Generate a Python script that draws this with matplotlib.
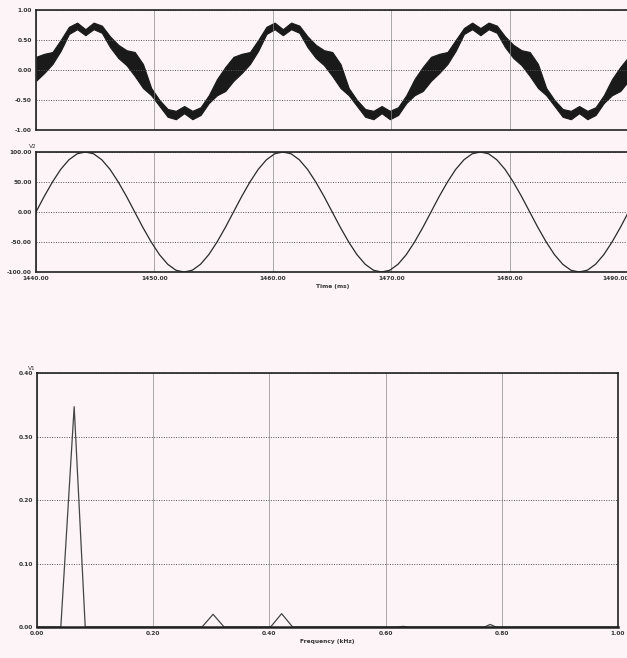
import numpy as np
from matplotlib import pyplot as plt

# V1 (top trace): upper / lower edge of the thick band, read every 1/24 of a 60 Hz cycle
v1_upper = [0.22, 0.27, 0.30, 0.50, 0.72, 0.79, 0.68, 0.79, 0.74, 0.56, 0.42, 0.33,
            0.30, 0.10, -0.30, -0.50, -0.65, -0.68, -0.60, -0.68, -0.62, -0.42, -0.15, 0.05,
            0.22, 0.27, 0.30, 0.50, 0.72, 0.79, 0.68, 0.79, 0.74, 0.56, 0.42, 0.33,
            0.30, 0.10, -0.30, -0.50, -0.65, -0.68, -0.60, -0.68, -0.62, -0.42, -0.15, 0.05,
            0.22, 0.27, 0.30, 0.50, 0.70, 0.79, 0.70, 0.79, 0.74, 0.56, 0.42, 0.33,
            0.30, 0.10, -0.30, -0.50, -0.65, -0.68, -0.60, -0.68, -0.62, -0.42, -0.15, 0.05,
            0.22]
v1_lower = [-0.18, -0.05, 0.10, 0.32, 0.60, 0.68, 0.58, 0.68, 0.62, 0.38, 0.20, 0.08,
            -0.10, -0.30, -0.42, -0.60, -0.78, -0.82, -0.72, -0.82, -0.75, -0.55, -0.42, -0.35,
            -0.18, -0.05, 0.10, 0.32, 0.60, 0.68, 0.58, 0.68, 0.62, 0.38, 0.20, 0.08,
            -0.10, -0.30, -0.42, -0.60, -0.78, -0.82, -0.72, -0.82, -0.75, -0.55, -0.42, -0.35,
            -0.18, -0.05, 0.10, 0.32, 0.60, 0.68, 0.58, 0.68, 0.62, 0.38, 0.20, 0.08,
            -0.10, -0.30, -0.42, -0.60, -0.78, -0.82, -0.72, -0.82, -0.75, -0.55, -0.42, -0.35,
            -0.18]

# V2 (middle trace), same sample instants
v2 = [0, 26, 50, 71, 87, 97, 100, 97, 87, 71, 50, 26,
      0, -26, -50, -71, -87, -97, -100, -97, -87, -71, -50, -26,
      0, 26, 50, 71, 87, 97, 100, 97, 87, 71, 50, 26,
      0, -26, -50, -71, -87, -97, -100, -97, -87, -71, -50, -26,
      0, 26, 50, 71, 87, 97, 100, 97, 87, 71, 50, 26,
      0, -26, -50, -71, -87, -97, -100, -97, -87, -71, -50, -26,
      0]

t_start = 1440.0
t_step = 1000.0 / 60 / 24      # ms between samples
t_ticks = [1440, 1450, 1460, 1470, 1480, 1490]

# spectrum of V1
freq_khz = [0.0, 0.041, 0.064, 0.083, 0.284, 0.303, 0.322, 0.402, 0.421, 0.440,
            0.620, 0.630, 0.640, 0.770, 0.780, 0.790, 1.0]
mag = [0.0, 0.0, 0.347, 0.0, 0.0, 0.020, 0.0, 0.0, 0.021, 0.0,
       0.0, 0.001, 0.0, 0.0, 0.004, 0.0, 0.0]
f_ticks = [0.0, 0.2, 0.4, 0.6, 0.8, 1.0]
mag_ticks = [0.0, 0.1, 0.2, 0.3, 0.4]

paper = '#fcf4f7'
ink = '#1a1a1a'
txt_col = '#333333'


def style_axes(ax):
    ax.set_facecolor(paper)
    for s in ax.spines.values():
        s.set_linewidth(1.2)
        s.set_color('#222222')
    ax.tick_params(length=0, pad=3)
    ax.grid(axis='y', linestyle=(0, (1, 1.5)), color='#555555', linewidth=0.7)
    ax.grid(axis='x', linestyle='-', color='#888888', linewidth=0.5)
    for lab in ax.get_xticklabels() + ax.get_yticklabels():
        lab.set_fontsize(4.2)
        lab.set_fontweight('bold')
        lab.set_color(txt_col)


fig = plt.figure(figsize=(6.27, 6.58), dpi=100)
fig.patch.set_facecolor(paper)

t = t_start + np.arange(len(v2)) * t_step
t_max = 1489.7

# top: V1
ax1 = fig.add_axes([0.0574, 0.8024, 0.945, 0.1824])
ax1.fill_between(t, v1_lower, v1_upper, color=ink, linewidth=0.8, edgecolor=ink)
ax1.set_xlim(t_start, t_max)
ax1.set_ylim(-1, 1)
ax1.set_xticks(t_ticks)
ax1.set_xticklabels([])
ax1.set_yticks([-1, -0.5, 0, 0.5, 1])
ax1.set_yticklabels(['-1.00', '-0.50', '0.00', '0.50', '1.00'])
style_axes(ax1)

# middle: V2
ax2 = fig.add_axes([0.0574, 0.5866, 0.945, 0.1824])
ax2.plot(t, v2, color='#2a2a2a', linewidth=0.9)
ax2.set_xlim(t_start, t_max)
ax2.set_ylim(-100, 100)
ax2.set_xticks(t_ticks)
ax2.set_xticklabels(['%.2f' % v for v in t_ticks])
ax2.set_yticks([-100, -50, 0, 50, 100])
ax2.set_yticklabels(['-100.00', '-50.00', '0.00', '50.00', '100.00'])
style_axes(ax2)
# last time label sits on the right edge; anchor it inside the figure
ax2.get_xticklabels()[-1].set_horizontalalignment('right')
ax2.text(-0.012, 1.03, 'V2', transform=ax2.transAxes, fontsize=4.2, color=txt_col)
ax2.set_xlabel('Time (ms)', fontsize=4.2, fontweight='bold', color=txt_col, labelpad=2)

# bottom: spectrum
ax3 = fig.add_axes([0.059, 0.0471, 0.9267, 0.386])
ax3.plot(freq_khz, mag, color='#444444', linewidth=0.9)
ax3.set_xlim(0, 1)
ax3.set_ylim(0, 0.4)
ax3.set_xticks(f_ticks)
ax3.set_xticklabels(['%.2f' % v for v in f_ticks])
ax3.set_yticks(mag_ticks)
ax3.set_yticklabels(['%.2f' % v for v in mag_ticks])
style_axes(ax3)
ax3.spines['bottom'].set_linewidth(1.8)
ax3.text(-0.015, 1.012, 'V1', transform=ax3.transAxes, fontsize=4.2, color=txt_col)
ax3.set_xlabel('Frequency (kHz)', fontsize=4.2, fontweight='bold', color=txt_col, labelpad=2)

fig.savefig('out.png', dpi=100, facecolor=paper)
